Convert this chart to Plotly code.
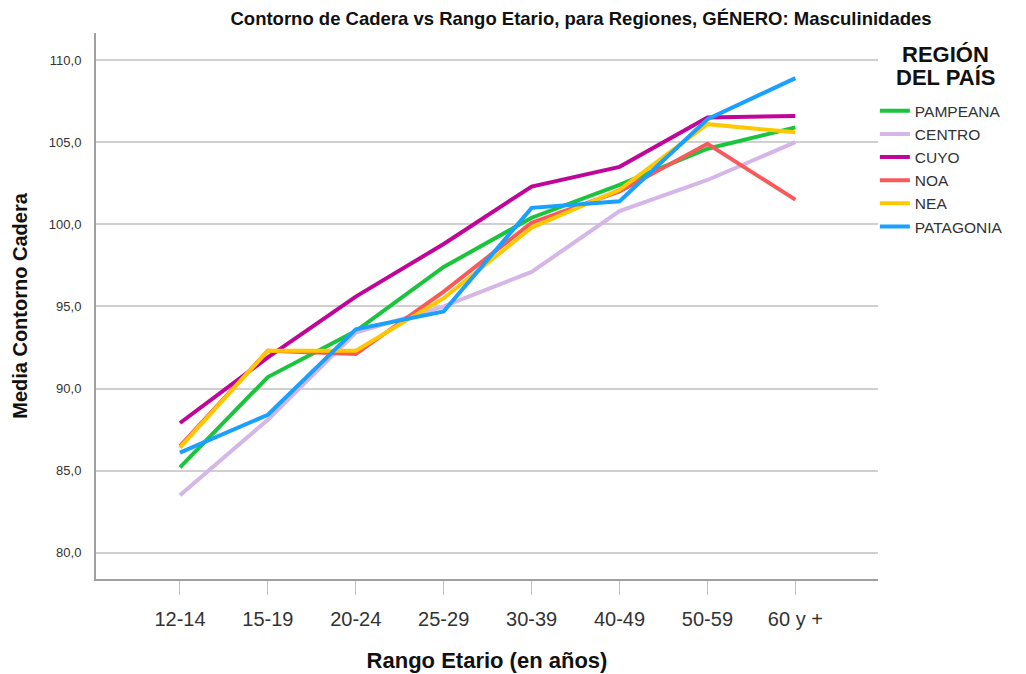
import plotly.graph_objects as go

categories = ["12-14", "15-19", "20-24", "25-29", "30-39", "40-49", "50-59", "60 y +"]
regions = ["PAMPEANA", "CENTRO", "CUYO", "NOA", "NEA", "PATAGONIA"]
pampeana = [85.2, 90.7, 93.5, 97.4, 100.4, 102.4, 104.6, 105.9]
centro = [83.5, 88.1, 93.4, 95.0, 97.1, 100.8, 102.7, 105.0]
cuyo = [87.9, 91.9, 95.6, 98.8, 102.3, 103.5, 106.5, 106.6]
noa = [86.5, 92.3, 92.1, 95.9, 100.1, 102.0, 104.9, 101.5]
nea = [86.4, 92.3, 92.3, 95.5, 99.8, 102.1, 106.1, 105.6]
patagonia = [86.1, 88.4, 93.6, 94.7, 101.0, 101.4, 106.4, 108.9]
colors = ["#1ac43c", "#d4b6e8", "#c0069a", "#f85a5a", "#fdc800", "#1aa0ff"]
series = [pampeana, centro, cuyo, noa, nea, patagonia]
y_ticks = [80, 85, 90, 95, 100, 105, 110]
y_tick_labels = ["80,0", "85,0", "90,0", "95,0", "100,0", "105,0", "110,0"]

font_n = "Liberation Sans Narrow, Arial Narrow, Liberation Sans, Arial, sans-serif"
font_s = "Liberation Sans, Arial, sans-serif"

fig = go.Figure()
for name, vals, c in zip(regions, series, colors):
    fig.add_trace(go.Scatter(x=list(range(len(categories))), y=vals, mode="lines", name=name,
                             line=dict(color=c, width=4)))

fig.update_layout(
    width=1026, height=674,
    margin=dict(l=88, r=156, t=25, b=103),
    plot_bgcolor="white", paper_bgcolor="white",
    title=dict(text="<b>Contorno de Cadera vs Rango Etario, para Regiones, GÉNERO: Masculinidades</b>",
               x=0.5585, xanchor="center", y=0.985, yanchor="middle",
               font=dict(family=font_n, size=18.5, color="#111")),
    xaxis=dict(range=[-0.955, 7.94], tickmode="array", tickvals=list(range(len(categories))),
               ticktext=categories, showgrid=False, zeroline=False, automargin=False,
               showline=True, linecolor="#a0a0a0", linewidth=2,
               ticks="outside", ticklen=14, tickcolor="#c0c0c0", tickwidth=1,
               ticklabelstandoff=7,
               tickfont=dict(family=font_n, size=20, color="#333"),
               title=dict(text="<b>Rango Etario (en años)</b>", standoff=24,
                          font=dict(family=font_n, size=22, color="#111"))),
    yaxis=dict(range=[78.4, 111.65], tickmode="array", tickvals=y_ticks, ticktext=y_tick_labels,
               showgrid=True, gridcolor="#d0d0d0", gridwidth=2, zeroline=False, automargin=False,
               showline=True, linecolor="#a0a0a0", linewidth=2, ticks="",
               ticklabelstandoff=10,
               tickfont=dict(family=font_n, size=13, color="#333"),
               title=dict(text="<b>Media Contorno Cadera</b>", standoff=16,
                          font=dict(family=font_n, size=20, color="#111"))),
    legend=dict(x=0.996, xanchor="left", y=0.888, yanchor="top", tracegroupgap=0,
                font=dict(family=font_s, size=15.5, color="#333"),
                itemwidth=30, bgcolor="rgba(0,0,0,0)"),
)
fig.add_annotation(text="<b>REGIÓN</b>", xref="paper", yref="paper",
                   x=1.0857, y=0.9615, xanchor="center", yanchor="middle", showarrow=False,
                   font=dict(family=font_s, size=22, color="#111"))
fig.add_annotation(text="<b>DEL PAÍS</b>", xref="paper", yref="paper",
                   x=1.0857, y=0.9194, xanchor="center", yanchor="middle", showarrow=False,
                   font=dict(family=font_s, size=22, color="#111"))
fig.write_html("out.html")
